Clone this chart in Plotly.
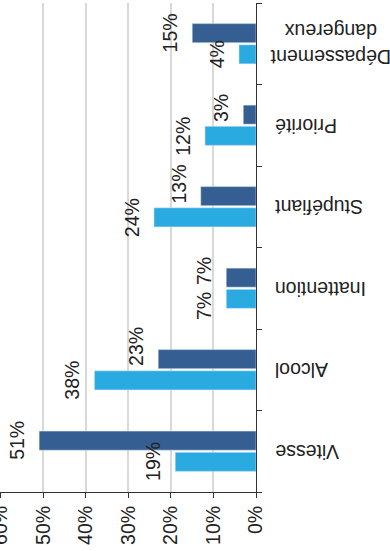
import plotly.graph_objects as go

# Causes d'accidents : part des cas, deux séries
categories = ["Vitesse", "Alcool", "Inattention", "Stupéfiant", "Priorité",
              "Dépassement<br>dangereux"]
serie_claire = [19, 38, 7, 24, 12, 4]
serie_foncee = [51, 23, 7, 13, 3, 15]
valeurs_ticks = [0, 10, 20, 30, 40, 50, 60]
labels_ticks = ["0%", "10%", "20%", "30%", "40%", "50%", "60%"]

COULEUR_CLAIRE = "#29abe2"
COULEUR_FONCEE = "#355f93"
FONT = "Liberation Sans, Arial, sans-serif"
TAILLE = 19.5
TEXTE = "#222222"

fig = go.Figure()
fig.add_trace(go.Bar(y=categories, x=serie_claire, orientation="h",
                     marker=dict(color=COULEUR_CLAIRE), name="claire"))
fig.add_trace(go.Bar(y=categories, x=serie_foncee, orientation="h",
                     marker=dict(color=COULEUR_FONCEE), name="foncée"))


def etiquette(v, cat, yanchor, yshift):
    fig.add_annotation(x=v, y=cat, text=f"{v}%", showarrow=False,
                       textangle=-90, xanchor="center", yanchor=yanchor,
                       xshift=-22, yshift=yshift,
                       font=dict(family=FONT, size=TAILLE, color=TEXTE))


# Étiquettes de valeur : centrées sur la barre, sauf si elles gêneraient
# la barre voisine ; elles sont alors calées contre le bord intérieur.
for cat, vc, vf in zip(categories, serie_claire, serie_foncee):
    if vc == vf:
        etiquette(vc, cat, "top", -1.5)
        etiquette(vf, cat, "bottom", 1.5)
    elif vc > vf:
        etiquette(vc, cat, "middle", -10.5)
        etiquette(vf, cat, "bottom", 1.5)
    else:
        etiquette(vc, cat, "middle", -10.5)
        etiquette(vf, cat, "middle", 10.5)

# Libellés de catégories, retournés, à droite de l'axe
for cat in categories:
    fig.add_annotation(x=1, xref="paper", y=cat, text=cat, showarrow=False,
                       textangle=180, xanchor="left", yanchor="middle",
                       align="center", xshift=12 if "<br>" in cat else 17,
                       font=dict(family=FONT, size=TAILLE, color=TEXTE))

fig.update_layout(
    width=390, height=551,
    margin=dict(l=0, r=134, t=3, b=59, autoexpand=False),
    paper_bgcolor="white", plot_bgcolor="white",
    barmode="group", bargap=0.48, bargroupgap=0.1,
    showlegend=False,
    font=dict(family=FONT, size=TAILLE, color=TEXTE),
)
fig.update_xaxes(
    range=[60.2, 0], tickvals=valeurs_ticks, ticktext=labels_ticks,
    tickangle=-90, showgrid=True, gridcolor="#d9d9d9", gridwidth=1.5,
    showline=True, linecolor="#333333", linewidth=1.2,
    ticks="outside", ticklen=5, tickcolor="#333333", zeroline=False,
    ticklabeloverflow="allow", automargin=False,
    tickfont=dict(family=FONT, size=TAILLE, color=TEXTE),
)
fig.update_yaxes(
    side="right", showticklabels=False, showgrid=False,
    showline=True, linecolor="#333333", linewidth=1.2,
    ticks="outside", ticklen=5, tickcolor="#333333", tickson="boundaries",
    categoryorder="array", categoryarray=categories, automargin=False,
)

fig.write_html("out.html")
